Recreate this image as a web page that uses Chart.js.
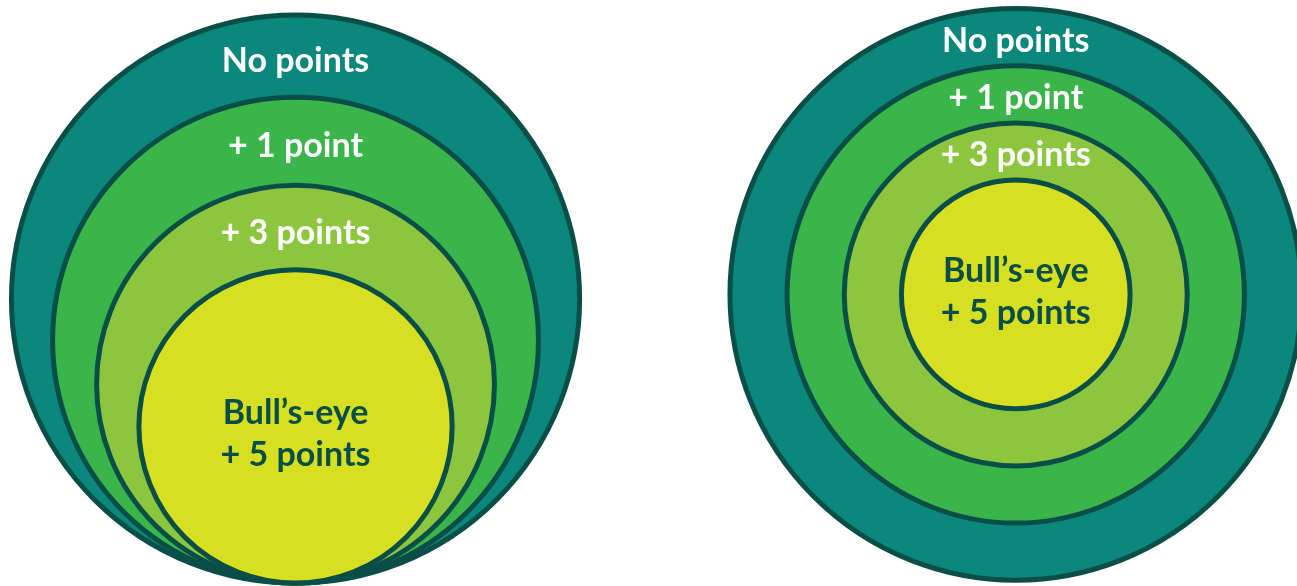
<!DOCTYPE html>
<html>
<head>
<meta charset="utf-8">
<script src="https://cdn.jsdelivr.net/npm/chart.js@4.4.0/dist/chart.umd.min.js"></script>
<style>
  html, body { margin: 0; padding: 0; background: #ffffff; }
  #wrap { width: 1297px; height: 586px; position: relative; }
</style>
</head>
<body>
<div id="wrap"><canvas id="target-chart"></canvas></div>
<script>
// rings, outermost first
const ringNames = ['No points', '+ 1 point', '+ 3 points', 'Bull\u2019s-eye\n+ 5 points'];
const ringColors = ['#0b877b', '#3ab54a', '#8cc63f', '#d7df22'];
const textColors = ['#ffffff', '#ffffff', '#ffffff', '#0a4f47'];

// two targets: left one with rings touching at the bottom, right one concentric
const targetX = [5.17, 17.77];
const leftRadii = [4.97, 4.25, 3.48, 2.74];
const leftBase = -0.05;      // rings all touch this line
const rightRadii = [5, 4, 3, 2];
const rightCenterY = 5;

const EDGE = '#0a4f47';

function ringData(i) {
    return [
        { x: targetX[0], y: leftBase + leftRadii[i], size: leftRadii[i] },
        { x: targetX[1], y: rightCenterY, size: rightRadii[i] }
    ];
}

// radius in data units -> pixels through the x scale
function pxRadius(ctx) {
    const s = ctx.chart.scales.x;
    if (!ctx.raw || !s) return 0;
    const r = s.getPixelForValue(ctx.raw.size) - s.getPixelForValue(0);
    return isFinite(r) ? r : 0;
}

const ringLabels = {
    id: 'ringLabels',
    afterDatasetsDraw(chart) {
        const c = chart.ctx;
        const ys = chart.scales.y;
        const xs = chart.scales.x;
        c.save();
        c.font = 'bold 34px Lato, "Open Sans", sans-serif';
        c.textAlign = 'center';
        c.textBaseline = 'middle';
        chart.data.datasets.forEach((ds, i) => {
            ds.data.forEach((pt, j) => {
                let yPx;
                const next = chart.data.datasets[i + 1];
                if (next) {
                    const top1 = ys.getPixelForValue(pt.y + pt.size);
                    const top2 = ys.getPixelForValue(next.data[j].y + next.data[j].size);
                    yPx = (top1 + top2) / 2 + (j === 0 ? 5 : 4);
                } else {
                    yPx = ys.getPixelForValue(pt.y) + (j === 0 ? 8 : -2);
                }
                const lines = ringNames[i].split('\n');
                const lh = 42;
                c.fillStyle = textColors[i];
                lines.forEach((t, k) => {
                    c.fillText(t, xs.getPixelForValue(pt.x), yPx + (k - (lines.length - 1) / 2) * lh);
                });
            });
        });
        c.restore();
    }
};

const ctx = document.getElementById('target-chart').getContext('2d');

new Chart(ctx, {
    type: 'scatter',
    data: {
        datasets: ringNames.map((name, i) => ({
            label: name,
            data: ringData(i),
            showLine: false,
            pointBackgroundColor: ringColors[i],
            pointBorderColor: EDGE,
            pointBorderWidth: 5,
            pointRadius: pxRadius,
            pointHoverRadius: pxRadius,
            pointHoverBorderWidth: 5,
            order: ringNames.length - i,
            clip: false
        }))
    },
    options: {
        responsive: true,
        maintainAspectRatio: false,
        animation: false,
        events: [],
        layout: { padding: 0 },
        scales: {
            x: { type: 'linear', min: 0, max: 22.69, display: false },
            y: { type: 'linear', min: -0.1, max: 10.15, display: false }
        },
        plugins: {
            legend: { display: false },
            tooltip: { enabled: false }
        }
    },
    plugins: [ringLabels]
});
</script>
</body>
</html>
